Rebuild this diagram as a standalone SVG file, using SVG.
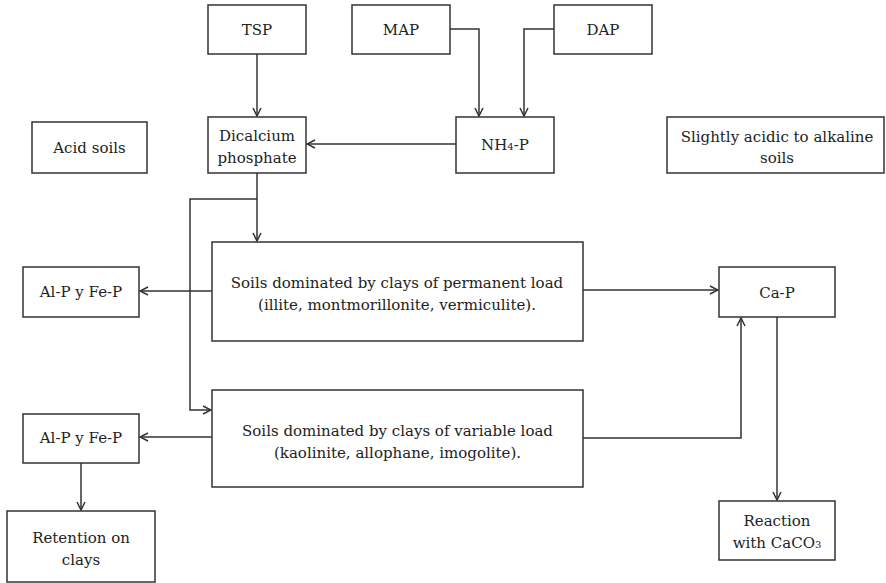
<svg xmlns="http://www.w3.org/2000/svg" width="886" height="583" viewBox="0 0 886 583">
<style>
.b{fill:#fff;stroke:#333;stroke-width:1.5}
.t{font-size:15px;fill:#222;text-anchor:middle}
.c{fill:none;stroke:#333;stroke-width:1.5}
.s{font-size:10px}
</style>
<defs>
<marker id="a" markerWidth="10" markerHeight="10" refX="9" refY="5" orient="auto" markerUnits="userSpaceOnUse">
<path d="M1,1 L9,5 L1,9" fill="none" stroke="#333" stroke-width="1.5"/>
</marker>
</defs>
<rect width="886" height="583" fill="#fff"/>
<g id="connectors">
<path class="c" d="M257,54 V116" marker-end="url(#a)"/>
<path class="c" d="M450,29 H479 V116" marker-end="url(#a)"/>
<path class="c" d="M554,29 H524 V116" marker-end="url(#a)"/>
<path class="c" d="M456,144 H307" marker-end="url(#a)"/>
<path class="c" d="M257,173 V241" marker-end="url(#a)"/>
<path class="c" d="M257,199 H190 V410 H211" marker-end="url(#a)"/>
<path class="c" d="M212,291 H140" marker-end="url(#a)"/>
<path class="c" d="M212,437 H140" marker-end="url(#a)"/>
<path class="c" d="M81,463 V510" marker-end="url(#a)"/>
<path class="c" d="M583,290 H718" marker-end="url(#a)"/>
<path class="c" d="M583,438 H741 V318" marker-end="url(#a)"/>
<path class="c" d="M777,317 V500" marker-end="url(#a)"/>
</g>
<g font-family="'DejaVu Serif', serif">
<g id="tsp"><rect class="b" x="208" y="5" width="98" height="49"/><text class="t" x="257" y="35">TSP</text></g>
<g id="map"><rect class="b" x="352" y="5" width="98" height="49"/><text class="t" x="401" y="35">MAP</text></g>
<g id="dap"><rect class="b" x="554" y="5" width="98" height="49"/><text class="t" x="603" y="35">DAP</text></g>
<g id="acid"><rect class="b" x="32" y="122" width="115" height="51"/><text class="t" x="89.5" y="153">Acid soils</text></g>
<g id="dicalcium"><rect class="b" x="208" y="117" width="98" height="56"/><text class="t" x="257" y="141">Dicalcium</text><text class="t" x="257" y="163">phosphate</text></g>
<g id="nh4p"><rect class="b" x="456" y="117" width="98" height="56"/><text class="t" x="505" y="150">NH<tspan class="s">4</tspan>-P</text></g>
<g id="slightly"><rect class="b" x="667" y="117" width="217" height="56"/><text class="t" x="777" y="142">Slightly acidic to alkaline</text><text class="t" x="777" y="163">soils</text></g>
<g id="permanent"><rect class="b" x="212" y="242" width="371" height="99"/><text class="t" x="397" y="288">Soils dominated by clays of permanent  load</text><text class="t" x="397" y="310">(illite, montmorillonite, vermiculite).</text></g>
<g id="variable"><rect class="b" x="212" y="390" width="371" height="97"/><text class="t" x="397.5" y="436">Soils dominated by clays of variable load</text><text class="t" x="397.5" y="458">(kaolinite, allophane, imogolite).</text></g>
<g id="alfe1"><rect class="b" x="23" y="267" width="116" height="50"/><text class="t" x="81" y="297">Al-P y Fe-P</text></g>
<g id="alfe2"><rect class="b" x="23" y="414" width="116" height="49"/><text class="t" x="81" y="443">Al-P y Fe-P</text></g>
<g id="retention"><rect class="b" x="7" y="511" width="148" height="71"/><text class="t" x="81" y="543">Retention on</text><text class="t" x="81" y="565">clays</text></g>
<g id="cap"><rect class="b" x="719" y="267" width="116" height="50"/><text class="t" x="777" y="298">Ca-P</text></g>
<g id="reaction"><rect class="b" x="719" y="501" width="116" height="59"/><text class="t" x="777" y="526">Reaction</text><text class="t" x="777" y="548">with CaCO<tspan class="s">3</tspan></text></g>
</g>
</svg>
